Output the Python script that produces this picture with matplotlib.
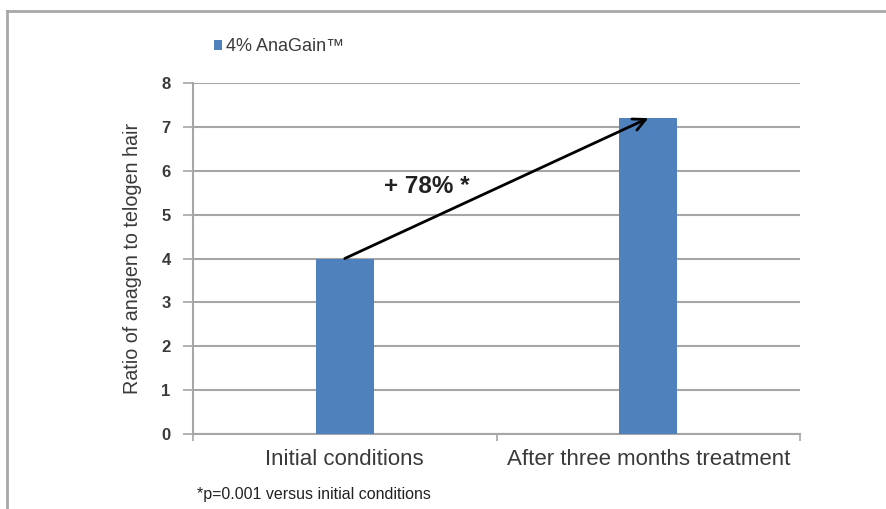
import matplotlib.pyplot as plt
from matplotlib.lines import Line2D

# data
categories = ["Initial conditions", "After three months treatment"]
ratio_values = [4.0, 7.2]
series_name = "4% AnaGain\u2122"
change_label = "+ 78% *"
footnote = "*p=0.001 versus initial conditions"
y_ticks = [0, 1, 2, 3, 4, 5, 6, 7, 8]

BAR_BLUE = "#4F81BD"
GRID_GRAY = "#a6a6a6"
TEXT_GRAY = "#3a3a3a"

plt.rcParams["font.family"] = ["Liberation Sans", "DejaVu Sans"]

fig = plt.figure(figsize=(8.86, 5.09), dpi=100)
ax = fig.add_axes([0.2178, 0.1473, 0.6852, 0.6896])

x = list(range(len(categories)))
bars = ax.bar(x, ratio_values, width=0.19, color=BAR_BLUE, zorder=3, label=series_name)

ax.set_xlim(-0.5, len(categories) - 0.5)
ax.set_ylim(0, 8)
ax.set_yticks(y_ticks)
ax.set_xticks(x)
ax.set_xticklabels(categories, fontsize=16, color=TEXT_GRAY)
ax.set_xticks([-0.5, 0.5, 1.5], minor=True)
ax.tick_params(axis="x", which="major", length=0, pad=11)
ax.tick_params(axis="x", which="minor", length=5, color=GRID_GRAY, width=1.2)
ax.tick_params(axis="y", length=7, color=GRID_GRAY, width=1.2, pad=9,
               labelsize=12, labelcolor=TEXT_GRAY)
for lab in ax.get_yticklabels():
    lab.set_fontweight("bold")

ax.grid(axis="y", color=GRID_GRAY, linewidth=1.5, zorder=0)
for side in ["top", "right"]:
    ax.spines[side].set_visible(False)
for side in ["left", "bottom"]:
    ax.spines[side].set_color(GRID_GRAY)
    ax.spines[side].set_linewidth(1.5)

ax.set_ylabel("Ratio of anagen to telogen hair", fontsize=14.2, color=TEXT_GRAY, labelpad=14)

# arrow from first bar top to second bar top
ax.annotate("", xy=(x[1], ratio_values[1]), xytext=(x[0], ratio_values[0]),
            arrowprops=dict(arrowstyle="->", color="black", lw=2, mutation_scale=22,
                            shrinkA=0, shrinkB=0), zorder=5)
ax.text(0.13, 5.65, change_label, fontsize=17.5, fontweight="bold", color="#222222",
        ha="left", va="center", zorder=5)

leg = ax.legend(loc="lower left", bbox_to_anchor=(0.022, 1.058), frameon=False,
                fontsize=13, handlelength=0.45, handleheight=0.45, handletextpad=0.25,
                borderaxespad=0)
for t in leg.get_texts():
    t.set_color(TEXT_GRAY)

fig.text(197 / 886, 1 - 494 / 509, footnote, fontsize=11.5, color="#222222",
         ha="left", va="center")

# outer frame of the picture (top and left edges)
frame_color = "#a8a8a8"
fig.add_artist(Line2D([7 / 886, 1], [1 - 11 / 509, 1 - 11 / 509], color=frame_color, lw=2,
                      transform=fig.transFigure))
fig.add_artist(Line2D([7 / 886, 7 / 886], [0, 1 - 11 / 509], color=frame_color, lw=2,
                      transform=fig.transFigure))

fig.savefig("out.png", dpi=100)
